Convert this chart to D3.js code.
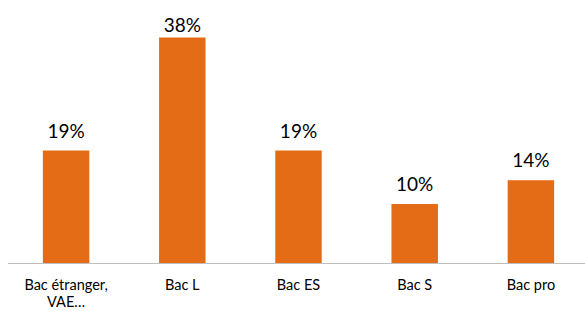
<!DOCTYPE html>
<html>
<head>
<meta charset="utf-8">
<script src="https://cdn.jsdelivr.net/npm/d3@7"></script>
<style>
  body { margin: 0; background: #fff; }
  text { font-family: Lato, "Open Sans", sans-serif; fill: #000; }
</style>
</head>
<body>
<svg width="585" height="311"></svg>
<script>
  // data
  const categories = [["Bac étranger,", "VAE…"], ["Bac L"], ["Bac ES"], ["Bac S"], ["Bac pro"]]
  const values = [19, 38, 19, 10, 14]
  const valueLabels = ["19%", "38%", "19%", "10%", "14%"]

  const svg = d3.select("svg")
  const base = 263.5

  const x = d3.scaleBand()
    .domain(d3.range(values.length))
    .range([8, 589])
    .paddingInner(0.6)
    .paddingOuter(0.3)

  const y = d3.scaleLinear()
    .domain([0, 38])
    .range([base, 37.5])

  // bars
  svg.selectAll("rect.bar")
    .data(values)
    .enter()
    .append("rect")
    .attr("class", "bar")
    .attr("x", (d, i) => x(i))
    .attr("y", d => y(d))
    .attr("width", x.bandwidth())
    .attr("height", d => base - y(d))
    .attr("fill", "#E46C17")

  // baseline
  svg.append("line")
    .attr("x1", 8).attr("x2", 585)
    .attr("y1", base).attr("y2", base)
    .attr("stroke", "#BFBFBF")
    .attr("stroke-width", 1.2)

  // value labels (top one gets squeezed under the edge, like excel does)
  svg.selectAll("text.val")
    .data(values)
    .enter()
    .append("text")
    .attr("class", "val")
    .attr("x", (d, i) => x(i) + x.bandwidth() / 2)
    .attr("y", d => Math.max(y(d) - 13, 31.5))
    .attr("text-anchor", "middle")
    .attr("font-size", 19)
    .text((d, i) => valueLabels[i])

  // category labels
  const cat = svg.selectAll("text.cat")
    .data(categories)
    .enter()
    .append("text")
    .attr("class", "cat")
    .attr("text-anchor", "middle")
    .attr("font-size", 14.5)
    .attr("x", (d, i) => x(i) + x.bandwidth() / 2)
    .attr("y", 290)

  cat.selectAll("tspan")
    .data(d => d)
    .enter()
    .append("tspan")
    .attr("x", function () { return this.parentNode.getAttribute("x") })
    .attr("dy", (d, i) => i == 0 ? 0 : 17)
    .text(d => d)
</script>
</body>
</html>
